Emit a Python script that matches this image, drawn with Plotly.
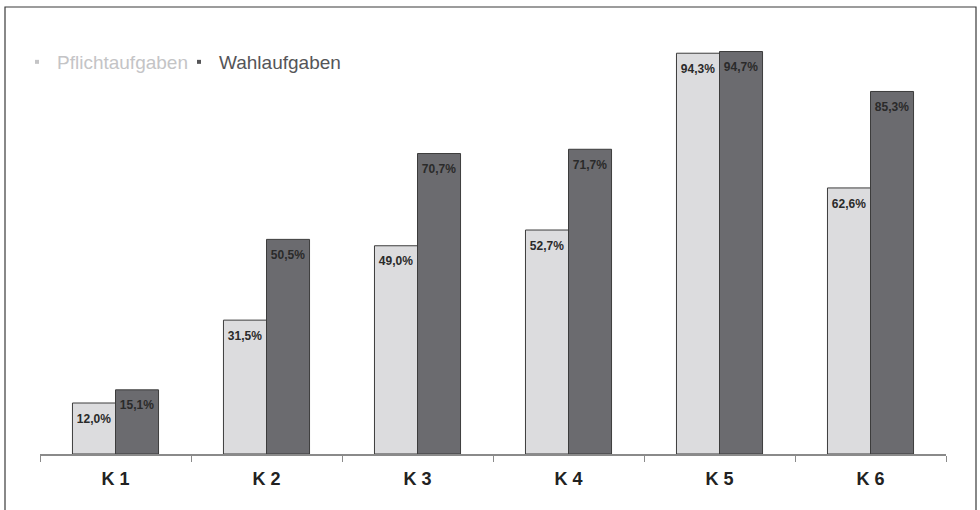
import plotly.graph_objects as go

categories = ["K 1", "K 2", "K 3", "K 4", "K 5", "K 6"]
pflicht = [12.0, 31.5, 49.0, 52.7, 94.3, 62.6]
wahl = [15.1, 50.5, 70.7, 71.7, 94.7, 85.3]
series_names = ["Pflichtaufgaben", "Wahlaufgaben"]

def fmt(v):
    return f"{v:.1f}".replace(".", ",") + "%"

W, H = 980, 510
L, R, T, B = 40, 34, 29, 56
pw, ph = W - L - R, H - T - B

light = "#dcdcde"
dark = "#6b6b6f"

series = [
    (series_names[0], pflicht, light, "#c4c4c6", "legend", 57),
    (series_names[1], wahl, dark, "#555558", "legend2", 219),
]

# a tiny spacer line above each value label pushes it a few px below the bar top
SPACER = "<span style='font-size:1px'>&nbsp;</span><br>"

fig = go.Figure()
for name, vals, col, tcol, leg, txt_x in series:
    fig.add_trace(go.Bar(
        x=categories, y=vals, name=name, marker_color=col,
        marker_line_color="#3c3c3c", marker_line_width=1,
        text=[fmt(v) for v in vals], texttemplate=SPACER + "%{text}",
        textposition="inside", insidetextanchor="end", textangle=0,
        textfont=dict(family="Liberation Sans, Arial", size=12, color="#2a2a2a", weight="bold"),
        constraintext="none", cliponaxis=False, showlegend=False, hoverinfo="skip",
    ))
    fig.add_trace(go.Scatter(
        x=[None], y=[None], mode="markers", name=name, legend=leg,
        marker=dict(symbol="square", size=4, color=tcol), showlegend=True,
    ))

def legend_cfg(txt_x, tcol):
    return dict(orientation="h", x=(txt_x - 40 - L) / pw, y=(H - B - 62) / ph,
                xanchor="left", yanchor="middle",
                font=dict(size=19, color=tcol), itemwidth=30,
                bgcolor="rgba(0,0,0,0)", borderwidth=0)

fig.update_layout(
    width=W, height=H,
    margin=dict(l=L, r=R, t=T, b=B, autoexpand=False),
    barmode="group", bargap=0.43, bargroupgap=0,
    plot_bgcolor="white", paper_bgcolor="white",
    font=dict(family="Liberation Sans, Arial", color="#333"),
    showlegend=True,
    legend=legend_cfg(series[0][5], series[0][3]),
    legend2=legend_cfg(series[1][5], series[1][3]),
    xaxis=dict(showline=True, linecolor="#8a8a8a", linewidth=1.5,
               ticks="outside", tickson="boundaries", ticklen=6, tickcolor="#8a8a8a",
               tickfont=dict(size=18, color="#222", weight="bold"),
               ticklabelstandoff=8, showgrid=False, fixedrange=True),
    yaxis=dict(range=[0, 100], visible=False, showgrid=False, fixedrange=True),
)

x0 = (5 - L) / pw
x1 = (976 - L) / pw
y0 = (H - B - 513) / ph
y1 = (H - B - 7) / ph
fig.add_shape(type="rect", xref="paper", yref="paper", x0=x0, x1=x1, y0=y0, y1=y1,
              line=dict(color="#3a3a3a", width=1.2), fillcolor="rgba(0,0,0,0)", layer="below")

fig.write_html("out.html", config={"displayModeBar": False},
               post_script="document.body.style.margin='0';")
